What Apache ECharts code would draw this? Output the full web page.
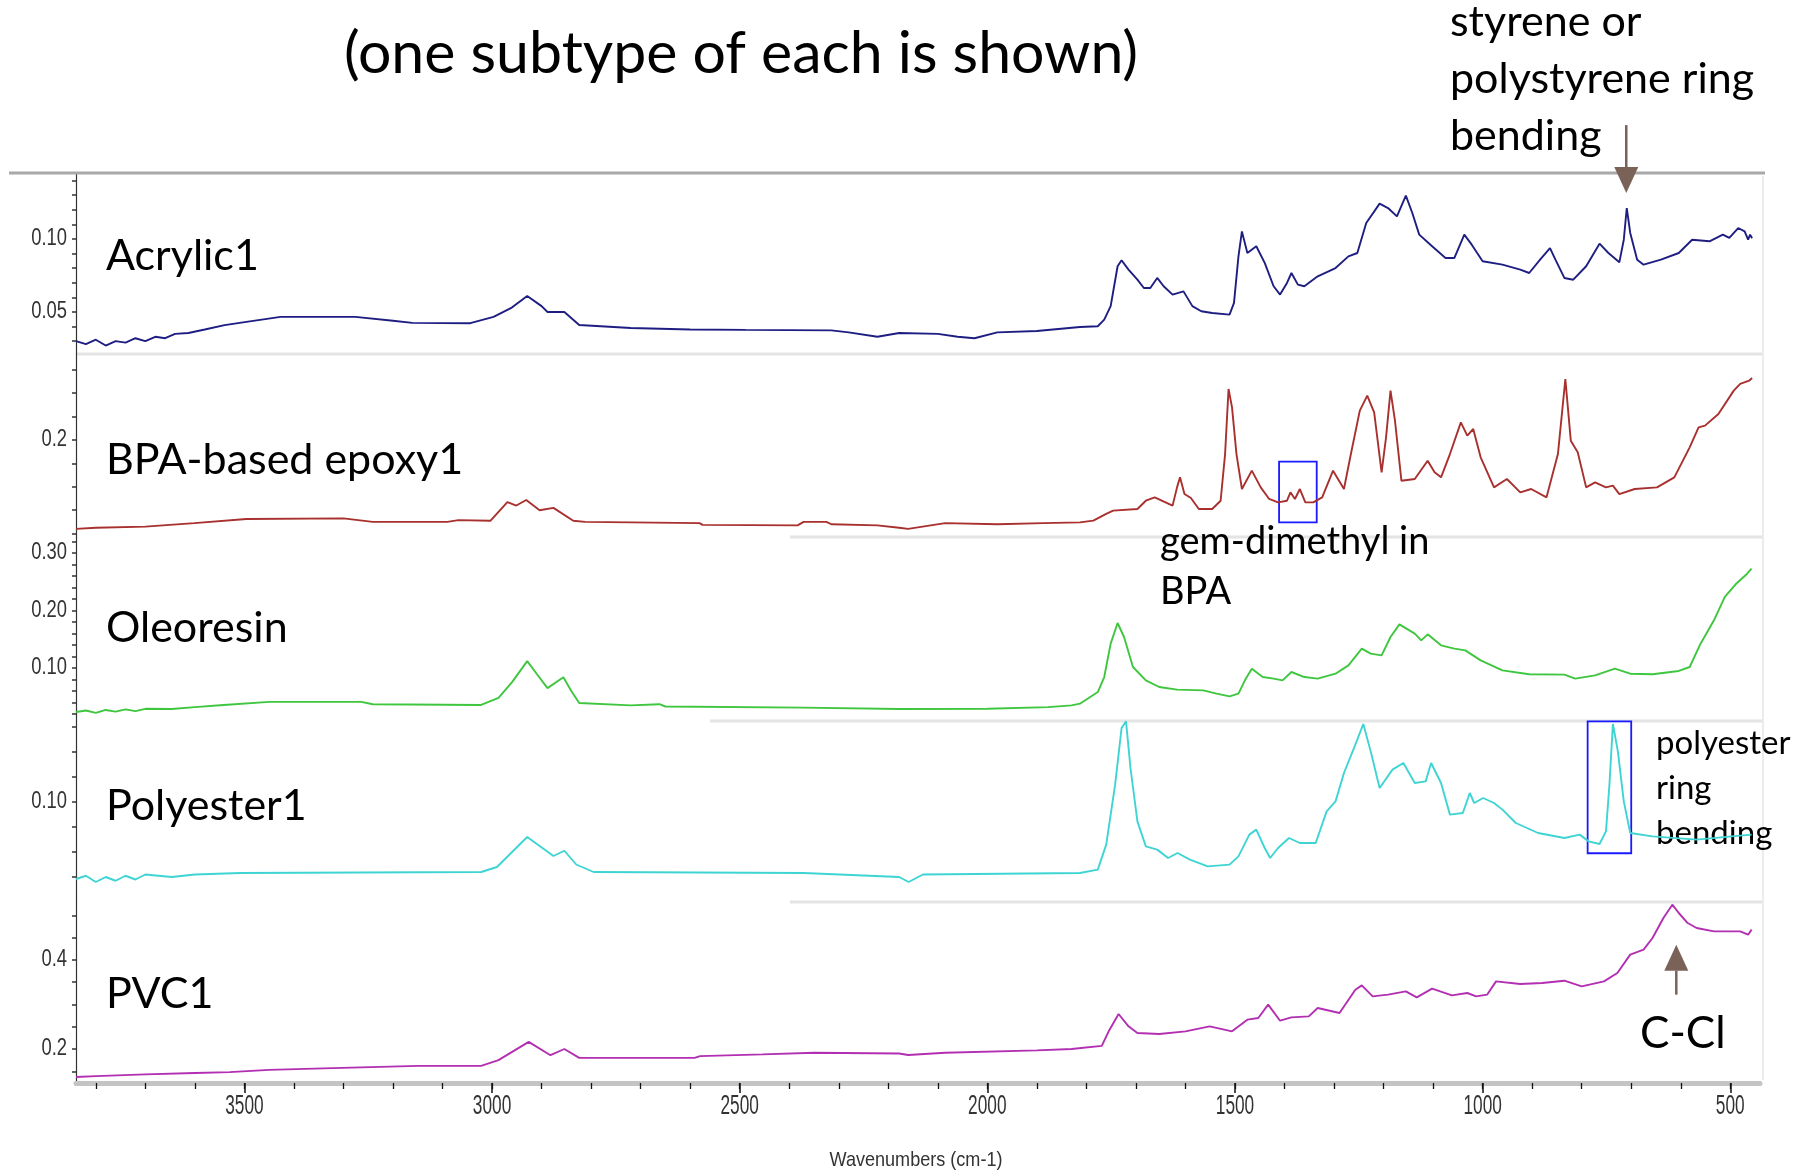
<!DOCTYPE html>
<html><head><meta charset="utf-8">
<script src="https://cdn.jsdelivr.net/npm/echarts@6/dist/echarts.min.js"></script>
<style>html,body{margin:0;padding:0;background:#fff}#c{width:1800px;height:1175px}</style>
</head><body><div id="c"></div>
<script>
// ---------------- DATA ----------------
const seriesNames = ['Acrylic1', 'BPA-based epoxy1', 'Oleoresin', 'Polyester1', 'PVC1'];

const acrylic1 = [[3840,0.030],[3820,0.028],[3800,0.031],[3780,0.027],[3760,0.030],[3740,0.029],[3720,0.032],[3700,0.030],[3680,0.033],[3660,0.032],[3640,0.035],[3613,0.0356],[3580,0.038],[3540,0.041],[3496,0.0432],[3427,0.0466],[3276,0.0466],[3200,0.0440],[3161,0.0425],[3044,0.0423],[2997,0.0466],[2960,0.053],[2929,0.061],[2900,0.054],[2888,0.050],[2854,0.050],[2824,0.0411],[2720,0.039],[2600,0.038],[2488,0.0377],[2315,0.0374],[2280,0.036],[2222,0.033],[2178,0.0356],[2100,0.035],[2060,0.033],[2026,0.032],[1980,0.036],[1900,0.037],[1813,0.0397],[1777,0.0402],[1764,0.0447],[1751,0.054],[1737,0.0813],[1729,0.0854],[1715,0.079],[1697,0.0721],[1684,0.0664],[1671,0.0664],[1657,0.0733],[1644,0.0676],[1626,0.0619],[1604,0.0641],[1586,0.054],[1568,0.0505],[1546,0.0493],[1511,0.0482],[1502,0.0562],[1493,0.0881],[1486,0.1052],[1475,0.0904],[1457,0.0950],[1440,0.0836],[1422,0.0676],[1409,0.0619],[1395,0.0699],[1386,0.0767],[1373,0.0687],[1360,0.0676],[1333,0.0744],[1297,0.0801],[1271,0.0881],[1253,0.0904],[1235,0.1110],[1208,0.1242],[1191,0.1212],[1173,0.1155],[1155,0.1297],[1142,0.1178],[1128,0.1030],[1102,0.0950],[1075,0.0870],[1057,0.0870],[1037,0.1030],[1022,0.0961],[1000,0.0847],[960,0.0824],[924,0.0790],[906,0.0767],[884,0.0858],[864,0.0938],[853,0.0858],[835,0.0733],[817,0.0721],[791,0.0813],[764,0.0968],[746,0.0904],[724,0.0840],[715,0.0995],[709,0.1212],[702,0.1041],[688,0.0858],[675,0.0824],[640,0.0858],[604,0.0904],[577,0.0995],[542,0.0984],[515,0.1030],[502,0.1007],[484,0.1075],[471,0.1052],[464,0.0995],[460,0.1030],[456,0.1005]];

const bpaEpoxy1 = [[3840,0.124],[3800,0.125],[3700,0.126],[3601,0.129],[3496,0.1325],[3300,0.133],[3241,0.130],[3090,0.130],[3068,0.1315],[3003,0.131],[2969,0.147],[2951,0.144],[2931,0.1487],[2904,0.140],[2876,0.142],[2836,0.131],[2812,0.130],[2581,0.129],[2575,0.1275],[2383,0.127],[2371,0.130],[2325,0.130],[2315,0.128],[2222,0.127],[2178,0.125],[2160,0.124],[2085,0.129],[1980,0.128],[1887,0.129],[1813,0.1296],[1786,0.1311],[1760,0.1368],[1746,0.1396],[1697,0.1410],[1680,0.1481],[1662,0.1510],[1626,0.1439],[1617,0.1595],[1611,0.1681],[1602,0.1538],[1589,0.1504],[1573,0.1410],[1546,0.1410],[1529,0.1481],[1520,0.1880],[1513,0.2436],[1506,0.2279],[1497,0.1880],[1486,0.1581],[1466,0.1738],[1448,0.1595],[1431,0.1496],[1413,0.1467],[1395,0.1481],[1388,0.1553],[1379,0.1496],[1369,0.1581],[1358,0.1467],[1342,0.1467],[1324,0.1510],[1302,0.1738],[1280,0.1581],[1266,0.1880],[1248,0.2251],[1233,0.2379],[1219,0.2236],[1204,0.1724],[1195,0.2023],[1186,0.2422],[1177,0.2165],[1164,0.1652],[1137,0.1667],[1111,0.1823],[1097,0.1724],[1084,0.1681],[1066,0.1880],[1044,0.2151],[1031,0.2037],[1019,0.2094],[1004,0.1852],[977,0.1595],[951,0.1667],[924,0.1553],[902,0.1581],[871,0.1510],[848,0.1880],[833,0.2521],[822,0.1994],[808,0.1895],[791,0.1595],[773,0.1638],[751,0.1595],[737,0.1610],[724,0.1538],[693,0.1581],[648,0.1595],[613,0.1681],[582,0.1937],[564,0.2108],[551,0.2123],[524,0.2222],[493,0.2422],[480,0.2479],[462,0.2507],[456,0.2530]];

const oleoresin = [[3840,0.0235],[3820,0.026],[3800,0.022],[3780,0.027],[3760,0.024],[3740,0.028],[3720,0.025],[3700,0.029],[3647,0.0287],[3600,0.032],[3542,0.0357],[3450,0.041],[3264,0.041],[3241,0.037],[3022,0.0357],[2987,0.048],[2960,0.075],[2929,0.112],[2910,0.090],[2888,0.065],[2856,0.084],[2840,0.060],[2824,0.039],[2720,0.035],[2662,0.037],[2650,0.033],[2371,0.031],[2178,0.0287],[2000,0.029],[1877,0.032],[1830,0.035],[1813,0.0379],[1777,0.0582],[1764,0.0843],[1751,0.1423],[1737,0.1782],[1724,0.1539],[1706,0.1017],[1680,0.0785],[1653,0.0669],[1617,0.0623],[1564,0.0611],[1537,0.0553],[1511,0.0507],[1493,0.0553],[1480,0.0785],[1466,0.0988],[1444,0.0843],[1422,0.0814],[1404,0.0785],[1386,0.0930],[1360,0.0843],[1333,0.0814],[1297,0.0901],[1271,0.1046],[1244,0.1336],[1226,0.1249],[1204,0.1220],[1186,0.1539],[1168,0.1759],[1137,0.1597],[1124,0.1481],[1111,0.1585],[1084,0.1394],[1057,0.1336],[1035,0.1307],[1004,0.1133],[960,0.0959],[906,0.0890],[835,0.0884],[813,0.0814],[773,0.0872],[733,0.0988],[702,0.0901],[657,0.0890],[604,0.0948],[582,0.1017],[560,0.1423],[533,0.1829],[511,0.2235],[488,0.2466],[466,0.2640],[457,0.2727]];

const polyester1 = [[3840,0.0384],[3820,0.041],[3800,0.036],[3780,0.040],[3760,0.037],[3740,0.041],[3720,0.038],[3700,0.042],[3647,0.040],[3600,0.042],[3508,0.0432],[3022,0.044],[2990,0.048],[2929,0.072],[2876,0.0568],[2854,0.061],[2830,0.050],[2795,0.044],[2371,0.0432],[2178,0.040],[2159,0.036],[2130,0.042],[1813,0.0432],[1777,0.0459],[1760,0.0659],[1742,0.1139],[1729,0.1592],[1720,0.1645],[1711,0.1272],[1697,0.0845],[1680,0.0645],[1657,0.0619],[1635,0.0552],[1616,0.0592],[1591,0.0539],[1555,0.0485],[1511,0.0499],[1493,0.0565],[1471,0.0739],[1457,0.0779],[1440,0.0632],[1429,0.0552],[1413,0.0632],[1391,0.0712],[1369,0.0672],[1337,0.0672],[1315,0.0925],[1297,0.1005],[1280,0.1232],[1257,0.1459],[1241,0.1624],[1226,0.1405],[1208,0.1112],[1182,0.1259],[1160,0.1312],[1137,0.1152],[1115,0.1165],[1104,0.1312],[1084,0.1152],[1066,0.0899],[1040,0.0912],[1026,0.1072],[1017,0.0992],[999,0.1032],[977,0.0992],[960,0.0939],[933,0.0832],[888,0.0752],[835,0.0712],[804,0.0739],[786,0.0685],[764,0.0664],[751,0.0765],[744,0.1139],[737,0.1624],[727,0.1405],[715,0.1005],[702,0.0752],[657,0.0725],[568,0.0699],[497,0.0725],[457,0.0739]];

const pvc1 = [[3840,0.137],[3800,0.139],[3700,0.143],[3600,0.146],[3530,0.148],[3450,0.153],[3322,0.157],[3149,0.162],[3022,0.162],[2987,0.175],[2926,0.216],[2882,0.186],[2854,0.200],[2824,0.180],[2591,0.180],[2580,0.184],[2454,0.188],[2349,0.1917],[2178,0.190],[2160,0.1865],[2085,0.1917],[1900,0.197],[1830,0.200],[1769,0.207],[1755,0.2397],[1735,0.2786],[1715,0.2509],[1697,0.2359],[1653,0.2337],[1600,0.2397],[1551,0.2509],[1506,0.2397],[1475,0.2659],[1453,0.2696],[1433,0.2996],[1409,0.2636],[1386,0.2711],[1351,0.2734],[1333,0.2921],[1289,0.2809],[1257,0.3333],[1244,0.3430],[1222,0.3183],[1191,0.3221],[1155,0.3296],[1133,0.3161],[1102,0.3356],[1062,0.3206],[1031,0.3258],[1013,0.3183],[991,0.3221],[973,0.3520],[924,0.3460],[880,0.3483],[835,0.3535],[800,0.3408],[755,0.3520],[728,0.3708],[702,0.4120],[675,0.4232],[657,0.4494],[635,0.4944],[617,0.5243],[604,0.5056],[586,0.4831],[568,0.4719],[533,0.4644],[506,0.4644],[480,0.4644],[464,0.4569],[457,0.4682]];

const allSeries = [acrylic1, bpaEpoxy1, oleoresin, polyester1, pvc1];

// axis ranges
const xMin = 440, xMax = 3840;
const yRanges = [[0.0212, 0.1452], [0.1171, 0.2735], [0.0078, 0.3278], [0.0216, 0.1648], [0.1236, 0.5348]];
// y tick labels
const yLabelValues = [[0.05, 0.10], [0.2], [0.10, 0.20, 0.30], [0.10], [0.2, 0.4]];
const yLabelDecimals = [2, 1, 2, 2, 1];
const yTickValues = [
  [0.03,0.04,0.05,0.06,0.07,0.08,0.09,0.10,0.11,0.12,0.13,0.14],
  [0.12,0.14,0.16,0.18,0.20,0.22,0.24,0.26],
  [0.02,0.04,0.06,0.08,0.10,0.12,0.14,0.16,0.18,0.20,0.22,0.24,0.26,0.28,0.30,0.32],
  [0.04,0.06,0.08,0.10,0.12,0.14,0.16],
  [0.15,0.20,0.25,0.30,0.35,0.40,0.45,0.50]
];
// x tick labels
const xMajorTicks = [500, 1000, 1500, 2000, 2500, 3000, 3500];
const xMinorTicks = [500,600,700,800,900,1000,1100,1200,1300,1400,1500,1600,1700,1800,1900,2000,2100,2200,2300,2400,2500,2600,2700,2800,2900,3000,3100,3200,3300,3400,3500,3600,3700,3800];
const xAxisTitle = 'Wavenumbers (cm-1)';

// --------------- STYLE / LAYOUT ---------------
const colors = ['#1e1e82', '#a8302e', '#3fc63f', '#3fd4d4', '#b22fb2'];
const panels = [{top:173,height:181},{top:354,height:183},{top:537,height:184},{top:721,height:179},{top:900,height:183}];
const gridLeft = 76, gridRight = 40;
const mainFont = 'Lato, "Noto Sans", sans-serif';
const axisFont = '"Liberation Sans", Arial, sans-serif';

const chart = echarts.init(document.getElementById('c'), null, {renderer: 'canvas'});

const grids = panels.map(p => ({left: gridLeft, right: gridRight, top: p.top, height: p.height, containLabel: false}));

const xAxes = panels.map((p, i) => {
  const last = i === panels.length - 1;
  return {
    type: 'value', gridIndex: i, min: xMin, max: xMax, inverse: true, show: last,
    splitLine: {show: false},
    axisLine: {show: last, onZero: false, lineStyle: {color: '#c4c4c4', width: 5}},
    axisTick: {show: last, customValues: xMajorTicks, length: 10, lineStyle: {color: '#111', width: 1.5}},
    axisLabel: {show: false}
  };
});
xAxes.push({
  type: 'value', gridIndex: 4, min: xMin, max: xMax, inverse: true, position: 'bottom',
  splitLine: {show: false},
  axisLine: {show: false, onZero: false},
  axisTick: {show: true, customValues: xMinorTicks, length: 6, lineStyle: {color: '#111', width: 1.3}},
  axisLabel: {show: false}
});

const yAxes = panels.map((p, i) => ({
  type: 'value', gridIndex: i, min: yRanges[i][0], max: yRanges[i][1],
  splitLine: {show: false},
  axisLine: {show: true, onZero: false, lineStyle: {color: '#333', width: 1.2}},
  axisTick: {show: true, customValues: yTickValues[i], length: 4, lineStyle: {color: '#333', width: 1.5}},
  axisLabel: {show: false}
}));

const series = allSeries.map((d, i) => ({
  name: seriesNames[i], type: 'line', xAxisIndex: i, yAxisIndex: i, data: d,
  showSymbol: false, symbol: 'none', smooth: false, animation: false, clip: false,
  lineStyle: {color: colors[i], width: 1.9},
}));
series[1].markArea = {silent: true, itemStyle: {color: 'rgba(0,0,0,0)', borderColor: '#1a1aff', borderWidth: 1.8},
  data: [[{xAxis: 1411, yAxis: 0.1815}, {xAxis: 1335, yAxis: 0.1296}]]};
series[3].markArea = {silent: true, itemStyle: {color: 'rgba(0,0,0,0)', borderColor: '#1a1aff', borderWidth: 1.8},
  data: [[{xAxis: 788, yAxis: 0.1645}, {xAxis: 700, yAxis: 0.059}]]};

chart.setOption({
  backgroundColor: '#ffffff',
  animation: false,
  grid: grids,
  xAxis: xAxes,
  yAxis: yAxes,
  series: series
});

// ---------------- TEXT & ANNOTATIONS ----------------
function px(i, wn, val) { return chart.convertToPixel({xAxisIndex: i, yAxisIndex: i}, [wn, val]); }
const brown = '#7b6259';
const g = [];
// frame / separators
g.push({type: 'line', shape: {x1: 9, y1: 173, x2: 1765, y2: 173}, style: {stroke: '#a8a8a8', lineWidth: 3}, z: 1});
g.push({type: 'line', shape: {x1: 76, y1: 354, x2: 1762, y2: 354}, style: {stroke: '#e4e4e4', lineWidth: 3}, z: 0});
g.push({type: 'line', shape: {x1: 790, y1: 537, x2: 1762, y2: 537}, style: {stroke: '#e4e4e4', lineWidth: 3}, z: 0});
g.push({type: 'line', shape: {x1: 710, y1: 721, x2: 1762, y2: 721}, style: {stroke: '#e4e4e4', lineWidth: 3}, z: 0});
g.push({type: 'line', shape: {x1: 790, y1: 902, x2: 1762, y2: 902}, style: {stroke: '#e4e4e4', lineWidth: 3}, z: 0});
g.push({type: 'line', shape: {x1: 1763, y1: 176, x2: 1763, y2: 1080}, style: {stroke: '#ececec', lineWidth: 2}, z: 0});

// axis tick labels (condensed look)
yLabelValues.forEach((vals, i) => vals.forEach(v => {
  const p = px(i, xMax, v);
  g.push({type: 'text', x: p[0] - 9, y: p[1], scaleX: 0.8, z: 10,
    style: {text: v.toFixed(yLabelDecimals[i]), font: '23px ' + axisFont, fill: '#333', textAlign: 'right', textVerticalAlign: 'middle'}});
}));
xMajorTicks.forEach(v => {
  const p = px(4, v, yRanges[4][0]);
  g.push({type: 'text', x: p[0], y: p[1] + 24, scaleX: 0.64, z: 10,
    style: {text: String(v), font: '27px ' + axisFont, fill: '#333', textAlign: 'center', textVerticalAlign: 'middle'}});
});
g.push({type: 'text', x: 916, y: 1160, scaleX: 0.86, z: 10,
  style: {text: xAxisTitle, font: '21px ' + axisFont, fill: '#333', textAlign: 'center', textVerticalAlign: 'middle'}});

// title
g.push({type: 'text', x: 741, y: 54, style: {text: '(one subtype of each is shown)', font: '59px ' + mainFont, fill: '#000', textAlign: 'center', textVerticalAlign: 'middle'}});
// panel labels
const labelY = [256, 460, 628, 806, 994];
seriesNames.forEach((n, i) => g.push({type: 'text', x: 106, y: labelY[i], style: {text: n, font: '43px ' + mainFont, fill: '#000', textAlign: 'left', textVerticalAlign: 'middle'}}));
// styrene note
['styrene or', 'polystyrene ring', 'bending'].forEach((t, k) => g.push({type: 'text', x: 1450, y: 22 + k * 57, style: {text: t, font: '43px ' + mainFont, fill: '#000', textAlign: 'left', textVerticalAlign: 'middle'}}));
// gem-dimethyl note
['gem-dimethyl in', 'BPA'].forEach((t, k) => g.push({type: 'text', x: 1160, y: 542 + k * 50, style: {text: t, font: '38px ' + mainFont, fill: '#000', textAlign: 'left', textVerticalAlign: 'middle'}}));
// polyester note
['polyester', 'ring', 'bending'].forEach((t, k) => g.push({type: 'text', x: 1656, y: 743 + k * 45, style: {text: t, font: '33px ' + mainFont, fill: '#000', textAlign: 'left', textVerticalAlign: 'middle'}}));
// C-Cl
g.push({type: 'text', x: 1640, y: 1034, style: {text: 'C-Cl', font: '44px ' + mainFont, fill: '#000', textAlign: 'left', textVerticalAlign: 'middle'}});

function arrow(i, wn, vTail, vTip) {
  const a = px(i, wn, vTail), b = px(i, wn, vTip);
  const dir = b[1] > a[1] ? 1 : -1;
  const headLen = 26, headHalf = 12;
  g.push({type: 'line', shape: {x1: a[0], y1: a[1], x2: b[0], y2: b[1] - dir * headLen}, style: {stroke: brown, lineWidth: 2.5}, z: 20});
  g.push({type: 'polygon', shape: {points: [[b[0], b[1]], [b[0] - headHalf, b[1] - dir * headLen], [b[0] + headHalf, b[1] - dir * headLen]]}, style: {fill: brown}, z: 20});
}
arrow(0, 710, 0.178, 0.1315);
arrow(4, 609, 0.3221, 0.4344);

chart.setOption({graphic: g});
</script>
</body></html>
